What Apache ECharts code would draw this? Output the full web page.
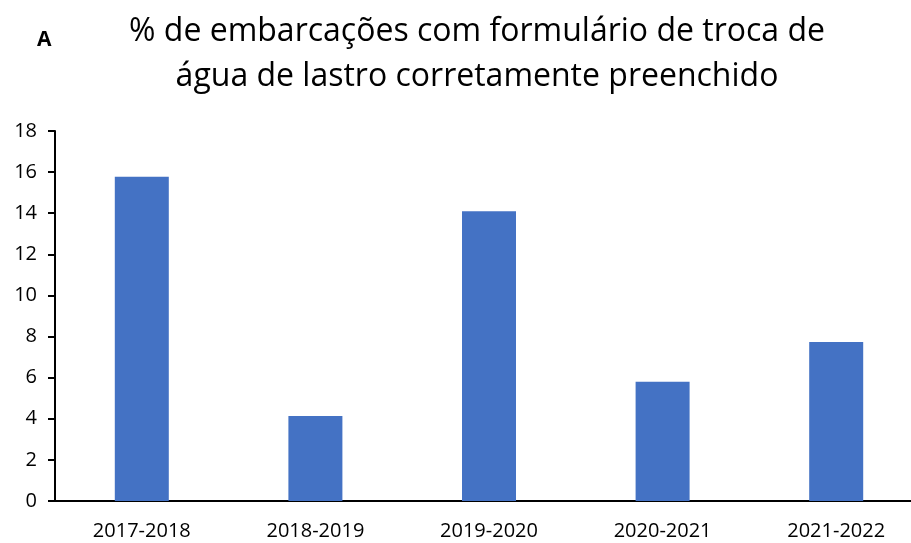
<!DOCTYPE html>
<html>
<head>
<meta charset="utf-8">
<script src="https://cdn.jsdelivr.net/npm/echarts@6/dist/echarts.min.js"></script>
<style>
  html, body { margin: 0; padding: 0; background: #fff; overflow: hidden; }
  /* the plot runs slightly past the right edge of the window */
  #chart { width: 923px; height: 543px; }
</style>
</head>
<body>
<div id="chart"></div>
<script>
// Campaign periods and share of vessels with a correctly completed ballast water exchange form
const periods = ['2017-2018', '2018-2019', '2019-2020', '2020-2021', '2021-2022'];
const percentCorrect = [15.78, 4.13, 14.1, 5.8, 7.73];
const yTicks = { min: 0, max: 18, step: 2 };

const chart = echarts.init(document.getElementById('chart'));
const fontFamily = '"Open Sans", "Liberation Sans", sans-serif';

chart.setOption({
  animation: false,
  title: [
    {
      text: '% de embarcações com formulário de troca de\nágua de lastro corretamente preenchido',
      left: 472,
      top: 4,
      textAlign: 'center',
      textStyle: {
        fontFamily: fontFamily,
        fontSize: 32,
        fontWeight: 'normal',
        color: '#000',
        lineHeight: 45
      }
    },
    {
      text: 'A',
      left: 32,
      top: 25,
      textStyle: {
        fontFamily: fontFamily,
        fontSize: 21,
        fontWeight: 'bold',
        color: '#000'
      }
    }
  ],
  grid: { left: 55, right: 0, top: 131, bottom: 42 },
  xAxis: {
    type: 'category',
    data: periods,
    axisLine: { lineStyle: { color: '#000', width: 2 } },
    axisTick: { show: false },
    axisLabel: {
      fontFamily: fontFamily,
      fontSize: 20,
      color: '#000',
      margin: 20
    }
  },
  yAxis: {
    type: 'value',
    min: yTicks.min,
    max: yTicks.max,
    interval: yTicks.step,
    axisLine: { show: true, lineStyle: { color: '#000', width: 2 } },
    axisTick: { show: true, length: 7, lineStyle: { color: '#000', width: 2 } },
    axisLabel: {
      fontFamily: fontFamily,
      fontSize: 20,
      color: '#000',
      margin: 18
    },
    splitLine: { show: false }
  },
  series: [{
    type: 'bar',
    data: percentCorrect,
    barWidth: 54,
    itemStyle: { color: '#4472C4' }
  }]
});
</script>
</body>
</html>
